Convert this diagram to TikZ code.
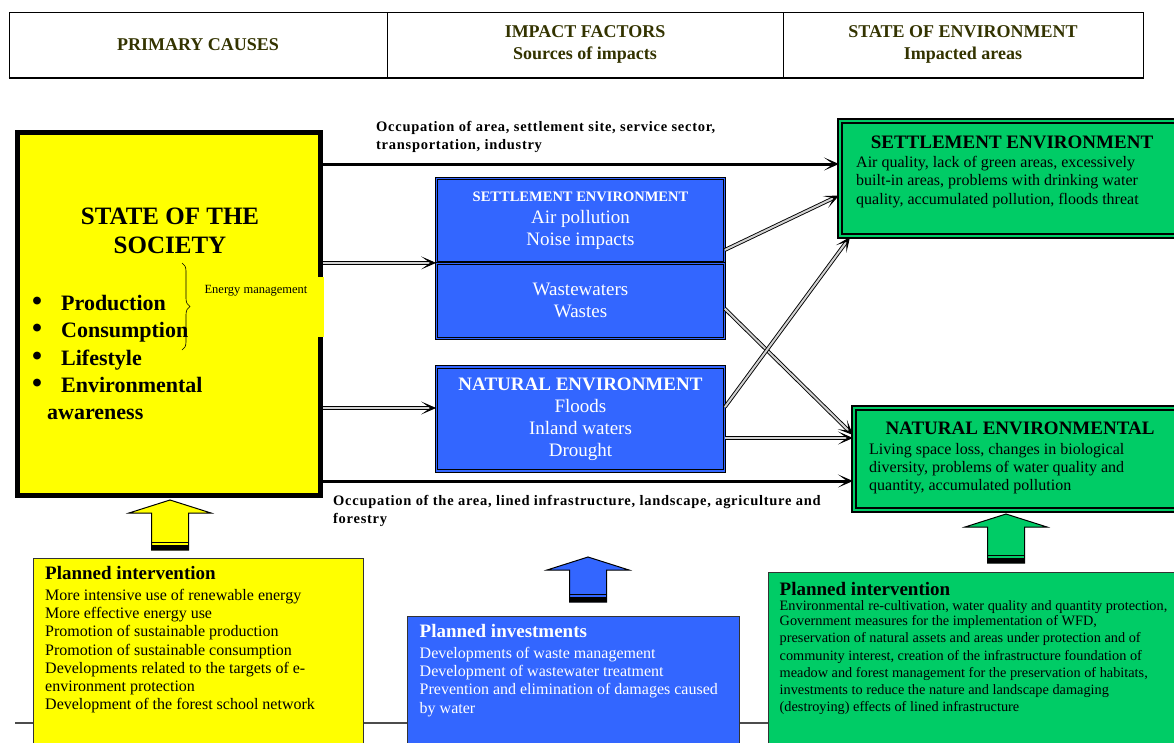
\documentclass[tikz,border=0pt]{standalone}
\usepackage{fontspec}
\setmainfont{Liberation Serif}
\usetikzlibrary{arrows.meta,positioning,calc,decorations.pathreplacing}

\definecolor{socyellow}{RGB}{255,255,0}
\definecolor{envblue}{RGB}{51,102,255}
\definecolor{envgreen}{RGB}{0,204,102}
\definecolor{headolive}{RGB}{51,51,0}

\tikzset{
  headcell/.style={draw, line width=1pt, minimum height=65pt, inner sep=0pt, align=center,
    text=headolive, font=\fontsize{18}{22}\selectfont\bfseries},
  bluebox/.style={draw=black, line width=0.8pt, double=envblue, double distance=1.6pt,
    fill=envblue, text=white, inner sep=0pt, align=center, font=\fontsize{19}{22}\selectfont},
  greenbox/.style={draw=black, line width=2pt, double=envgreen, double distance=2pt,
    fill=envgreen, inner sep=0pt},
  planbox/.style={draw=black!80, line width=1pt, inner sep=0pt},
  plantext/.style={align=left, anchor=north west, inner sep=0pt, font=\fontsize{16}{18.3}\selectfont},
  occtext/.style={align=left, anchor=north west, inner sep=0pt,
    font=\fontsize{14.5}{18.5}\selectfont\bfseries\addfontfeatures{LetterSpace=5}},
  bigarrow/.style={line width=3pt, -{Stealth[length=15pt,width=13pt,inset=9pt]}},
  dblarrow/.style={draw=black, line width=0.9pt, double=gray!35, double distance=2pt,
    -{Stealth[length=15pt,width=13pt,inset=9pt]}},
  groundline/.style={draw=black!70, line width=1.5pt},
}

\begin{document}
\begin{tikzpicture}[x=1pt,y=-1pt]
    \clip (0,0) rectangle (1174,742);
    \newcommand\upblock[4]{%
      \draw[fill=#4, line width=1pt] (#1,#2) -- (#1+41,#2+13) -- (#1+18.5,#2+13) -- (#1+18.5,#3)
        -- (#1-18.5,#3) -- (#1-18.5,#2+13) -- (#1-41,#2+13) -- cycle;
      \fill[black] (#1-18.5,#3-5) rectangle (#1+18.5,#3);
      \draw[line width=1pt] (#1-18.5,#3-8) -- (#1+18.5,#3-8);}

    % header
    \node[headcell, minimum width=378pt] (hcauses) at (198,44.5) {PRIMARY CAUSES};
    \node[headcell, minimum width=396pt] (hfactors) at (585,44.5) {IMPACT FACTORS\\Sources of impacts};
    \node[headcell, minimum width=360pt] (hstate) at (963,44.5) {STATE OF ENVIRONMENT\\Impacted areas};
    \draw[line width=2pt] (hcauses.south west) -- (hstate.south east);

    \draw[groundline] (15,723) -- (1174,723);

    % state of the society
    \node[draw, line width=5pt, fill=socyellow, minimum width=303pt, minimum height=363pt, inner sep=0pt] (society) at (169,314) {};
    \node[font=\fontsize{25}{29}\selectfont\bfseries, align=center] (societytitle) at (170,231) {STATE OF THE\\SOCIETY};
    \node[font=\fontsize{22}{27.3}\selectfont\bfseries, align=left, anchor=north west, inner sep=0pt] (societylist) at (32,295)
      {\makebox[29pt][l]{\scalebox{1.3}{\textbullet}}Production\\\makebox[29pt][l]{\scalebox{1.3}{\textbullet}}Consumption\\
       \makebox[29pt][l]{\scalebox{1.3}{\textbullet}}Lifestyle\\\makebox[29pt][l]{\scalebox{1.3}{\textbullet}}Environmental\\\hspace{15pt}awareness};
    \node[fill=socyellow, minimum width=9.5pt, minimum height=60pt, inner sep=0pt] (energypatch) at (318.75,307) {};
    \node[font=\fontsize{12.5}{14}\selectfont, inner sep=0pt] (energy) at (256,291) {Energy management};
    \draw[line width=0.6pt, decorate, decoration={brace, amplitude=8pt}] (182,263) -- (182,350);

    % impact factors
    \node[bluebox, minimum width=288pt, minimum height=84pt] (settleB) at (580.5,220.5)
      {{\fontsize{14.5}{16}\selectfont\bfseries SETTLEMENT ENVIRONMENT}\\Air pollution\\Noise impacts};
    \node[bluebox, minimum width=288pt, minimum height=75pt, anchor=north] (wasteB) at (settleB.south) {Wastewaters\\Wastes};
    \node[bluebox, minimum width=288pt, minimum height=104pt] (naturB) at (580.5,419)
      {\textbf{NATURAL ENVIRONMENT}\\Floods\\Inland waters\\Drought};

    % state of environment
    \node[greenbox, minimum width=360pt, minimum height=115pt] (settleG) at (1020,178.5) {};
    \node[font=\fontsize{19}{22}\selectfont\bfseries] (settleGtitle) at (1012,142) {SETTLEMENT ENVIRONMENT};
    \node[plantext] (settleGtext) at (856,156)
      {Air quality, lack of green areas, excessively\\built-in areas, problems with drinking water\\quality, accumulated pollution, floods threat};
    \node[greenbox, minimum width=346pt, minimum height=102pt] (naturG) at (1027,459) {};
    \node[font=\fontsize{19}{22}\selectfont\bfseries] (naturGtitle) at (1020,428) {NATURAL ENVIRONMENTAL};
    \node[plantext] (naturGtext) at (869,443)
      {Living space loss, changes in biological\\diversity, problems of water quality and\\quantity, accumulated pollution};

    % connectors
    \coordinate (topline) at (0,164);
    \coordinate (botline) at (0,481);
    \coordinate (lowdbl) at (0,408);
    \draw[bigarrow] (society.east |- topline) -- (settleG.west |- topline);
    \draw[bigarrow] (society.east |- botline) -- (naturG.west |- botline);
    \node[occtext] (occtop) at (376,121)
      {Occupation of area, settlement site, service sector,\\transportation, industry};
    \node[occtext] (occbot) at (333,495)
      {Occupation of the area, lined infrastructure, landscape, agriculture and\\forestry};

    \draw[dblarrow] (society.east |- settleB.south) -- (settleB.south west);
    \draw[dblarrow] (society.east |- lowdbl) -- (naturB.west |- lowdbl);
    \draw[dblarrow] ([yshift=13pt]settleB.south east) -- ([yshift=-17pt]settleG.west);
    \draw[dblarrow] ([yshift=-8pt]wasteB.east) -- ([yshift=24pt]naturG.west);
    \draw[dblarrow] ([yshift=12pt]naturB.east) -- ([xshift=11pt]settleG.south west);
    \coordinate (natright) at ([yshift=-19pt]naturB.east);
    \draw[dblarrow] (natright) -- (naturG.west |- natright);

    % planned measures
    \upblock{170}{500}{550}{socyellow}
    \upblock{588}{557}{602}{envblue}
    \upblock{1006}{514}{563}{envgreen}

    \node[planbox, fill=socyellow, minimum width=330pt, minimum height=202pt] (planY) at (198.5,659) {};
    \node[plantext] (planYtext) at ([shift={(12,9)}]planY.north west)
      {{\fontsize{19}{20}\selectfont\bfseries Planned intervention}\\[2pt]
       More intensive use of renewable energy\\More effective energy use\\
       Promotion of sustainable production\\Promotion of sustainable consumption\\
       Developments related to the targets of e-\\environment protection\\
       Development of the forest school network};
    \node[planbox, fill=envblue, minimum width=332pt, minimum height=144pt] (planB) at (573,688) {};
    \node[plantext, text=white] (planBtext) at ([shift={(13,9)}]planB.north west)
      {{\fontsize{19}{20}\selectfont\bfseries Planned investments}\\[2pt]
       Developments of waste management\\Development of wastewater treatment\\
       Prevention and elimination of damages caused\\by water};
    \node[planbox, fill=envgreen, minimum width=432pt, minimum height=188pt] (planG) at (984,666) {};
    \node[plantext, font=\fontsize{14.3}{17.3}\selectfont] (planGtext) at ([shift={(12,11)}]planG.north west)
      {{\fontsize{19}{20}\selectfont\bfseries Planned intervention}\\[-3pt]
       Environmental re-cultivation, water quality and quantity protection,\\[-2pt]
       Government measures for the implementation of WFD,\\
       preservation of natural assets and areas under protection and of\\
       community interest, creation of the infrastructure foundation of\\
       meadow and forest management for the preservation of habitats,\\
       investments to reduce the nature and landscape damaging\\
       (destroying) effects of lined infrastructure};
\end{tikzpicture}
\end{document}
